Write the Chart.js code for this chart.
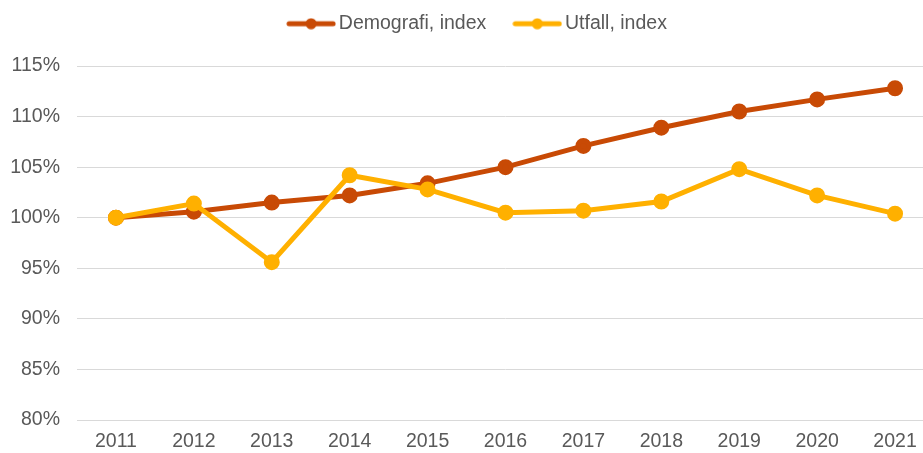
<!DOCTYPE html>
<html>
<head>
<meta charset="utf-8">
<script src="https://cdn.jsdelivr.net/npm/chart.js@4"></script>
<style>
    html, body { margin: 0; padding: 0; background: #fff; overflow: hidden; }
    #chart { display: block; }
</style>
</head>
<body>
<canvas id="chart" width="934" height="453" style="width:934px;height:453px"></canvas>
<script>
// Données
const years = ['2011', '2012', '2013', '2014', '2015', '2016', '2017', '2018', '2019', '2020', '2021'];
const demografi = [100.0, 100.6, 101.5, 102.2, 103.4, 105.0, 107.1, 108.9, 110.5, 111.7, 112.8];
const utfall = [100.0, 101.4, 95.6, 104.2, 102.8, 100.5, 100.7, 101.6, 104.8, 102.2, 100.4];
const yTicks = { min: 80, max: 115, step: 5 };

const colDemo = '#C84A05';
const colUtfall = '#FFB000';
const textColor = '#595959';
const gridColor = '#D9D9D9';
const fontFamily = 'Liberation Sans, Arial, sans-serif';

// Marqueur de légende : trait + point
function legendMarker(color) {
    const c = document.createElement('canvas');
    c.width = 50;
    c.height = 12;
    const g = c.getContext('2d');
    g.strokeStyle = color;
    g.lineWidth = 5;
    g.lineCap = 'round';
    g.beginPath();
    g.moveTo(3, 6);
    g.lineTo(47, 6);
    g.stroke();
    g.fillStyle = color;
    g.beginPath();
    g.arc(25, 6, 5.5, 0, Math.PI * 2);
    g.fill();
    return c;
}

const markers = [legendMarker(colDemo), legendMarker(colUtfall)];

// Position de la légende : hauteur réservée fixe, décalée vers la droite
const legendLayout = {
    id: 'legendLayout',
    beforeLayout(chart) {
        const legend = chart.legend;
        if (!legend || legend._patched) return;
        const fit = legend.fit;
        legend.fit = function () {
            fit.call(this);
            this.height = 66;
        };
        legend._patched = true;
    },
    afterLayout(chart) {
        chart.legend.left = 26;
        chart.legend.top = -19;
    },
};

new Chart(document.getElementById('chart'), {
    type: 'line',
    data: {
        labels: years,
        datasets: [
            {
                label: 'Demografi, index',
                data: demografi,
                borderColor: colDemo,
                backgroundColor: colDemo,
                borderWidth: 5,
                pointRadius: 5.5,
                pointHoverRadius: 5.5,
                tension: 0,
                order: 1,
            },
            {
                label: 'Utfall, index',
                data: utfall,
                borderColor: colUtfall,
                backgroundColor: colUtfall,
                borderWidth: 5,
                pointRadius: 5.5,
                pointHoverRadius: 5.5,
                tension: 0,
                order: 0,
            },
        ],
    },
    plugins: [legendLayout],
    options: {
        responsive: false,
        animation: false,
        devicePixelRatio: 1,
        layout: { padding: 0, autoPadding: false },
        plugins: {
            tooltip: { enabled: false },
            legend: {
                position: 'top',
                labels: {
                    usePointStyle: true,
                    pointStyleWidth: 36,
                    boxHeight: 12,
                    padding: 33,
                    color: textColor,
                    font: { family: fontFamily, size: 19.5 },
                    generateLabels(chart) {
                        return chart.data.datasets.map((ds, i) => ({
                            text: ds.label,
                            pointStyle: markers[i],
                            fillStyle: ds.borderColor,
                            strokeStyle: ds.borderColor,
                            lineWidth: 0,
                            fontColor: textColor,
                            hidden: false,
                            datasetIndex: i,
                        }));
                    },
                },
            },
        },
        scales: {
            x: {
                offset: true,
                afterFit(scale) {
                    scale.height = 33;
                    scale.paddingLeft = 0;
                    scale.paddingRight = 0;
                },
                grid: { display: false, drawTicks: false },
                border: { display: true, color: gridColor, width: 1 },
                ticks: {
                    color: textColor,
                    padding: 10,
                    font: { family: fontFamily, size: 19.5 },
                },
            },
            y: {
                min: yTicks.min,
                max: yTicks.max,
                afterFit(scale) {
                    scale.width = 77;
                    scale.paddingTop = 0;
                    scale.paddingBottom = 0;
                },
                grid: { color: gridColor, lineWidth: 1, drawTicks: false },
                border: { display: false },
                ticks: {
                    stepSize: yTicks.step,
                    padding: 17,
                    color: textColor,
                    font: { family: fontFamily, size: 19.5 },
                    callback: (v) => v + '%',
                },
            },
        },
    },
});
</script>
</body>
</html>
